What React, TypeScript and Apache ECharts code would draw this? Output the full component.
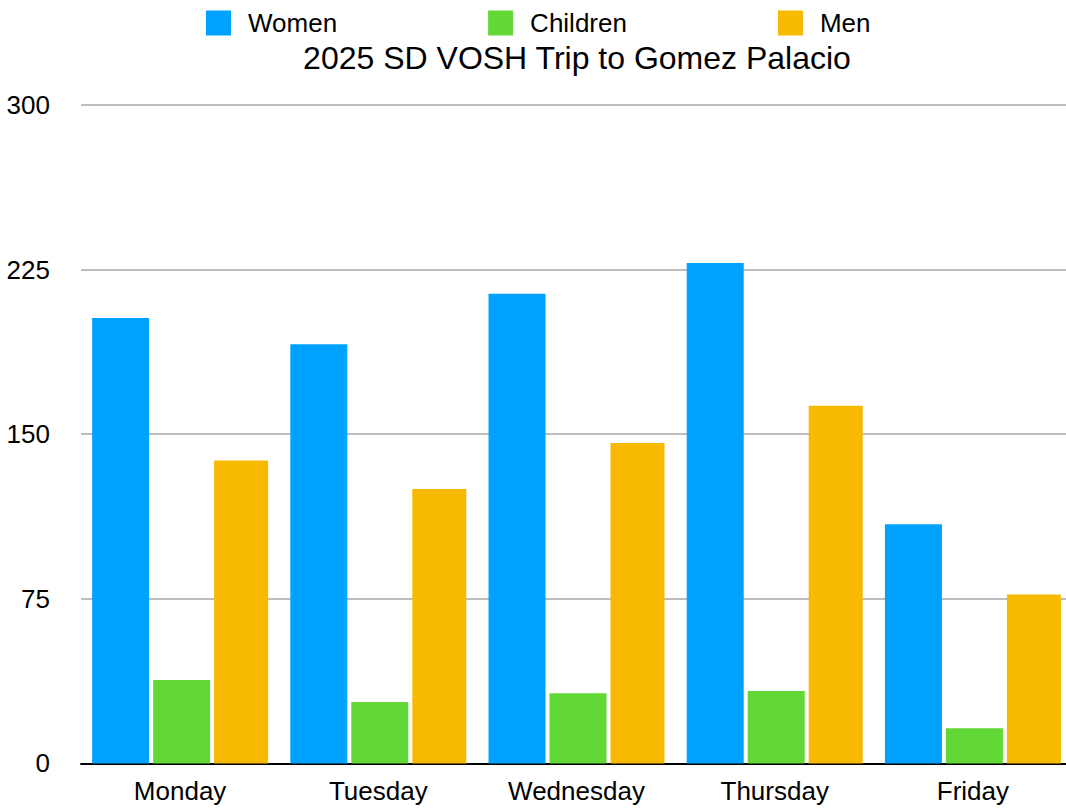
import React, { useEffect, useRef } from "react";
import * as echarts from "echarts";

const categories = ["Monday", "Tuesday", "Wednesday", "Thursday", "Friday"];
const seriesNames = ["Women", "Children", "Men"];
const women = [203, 191, 214, 228, 109];
const children = [38, 28, 32, 33, 16];
const men = [138, 125, 146, 163, 77];
const colors = ["#00A2FF", "#61D836", "#F8BA00"];
const titleText = "2025 SD VOSH Trip to Gomez Palacio";
const yMin = 0;
const yMax = 300;
const yInterval = 75;

const FONT = "'Liberation Sans', Arial, Helvetica, sans-serif";

export default function App() {
  const ref = useRef<HTMLDivElement>(null);

  useEffect(() => {
    if (!ref.current) return;
    const chart = echarts.init(ref.current, null, { renderer: "svg" });
    const values = [women, children, men];
    const widths = [57, 57, 54];
    chart.setOption({
      animation: false,
      backgroundColor: "#ffffff",
      textStyle: { fontFamily: FONT },
      graphic: [
        {
          type: "text",
          x: 577,
          y: 57.5,
          style: {
            text: titleText,
            fontSize: 32,
            fontFamily: FONT,
            fill: "#000000",
            align: "center",
            verticalAlign: "middle",
          },
        },
      ],
      legend: {
        left: 206,
        top: 10,
        padding: 0,
        icon: "rect",
        itemWidth: 25,
        itemHeight: 25,
        itemGap: 151,
        data: seriesNames,
        textStyle: {
          fontSize: 26,
          fontFamily: FONT,
          color: "#000000",
          padding: [0, 0, 0, 12],
        },
      },
      grid: {
        left: 81,
        top: 105,
        width: 991,
        height: 658.4,
        containLabel: false,
      },
      xAxis: {
        type: "category",
        data: categories,
        axisTick: { show: false },
        axisLine: { show: true, lineStyle: { color: "#000000", width: 2 } },
        axisLabel: {
          fontSize: 26,
          fontFamily: FONT,
          color: "#000000",
          margin: 15,
        },
        splitLine: { show: false },
      },
      yAxis: {
        type: "value",
        min: yMin,
        max: yMax,
        interval: yInterval,
        axisLine: { show: false },
        axisTick: { show: false },
        axisLabel: {
          fontSize: 26,
          fontFamily: FONT,
          color: "#000000",
          margin: 31,
        },
        splitLine: { show: true, lineStyle: { color: "#BDBDBD", width: 2 } },
      },
      series: seriesNames.map((name, i) => ({
        name,
        type: "bar",
        data: values[i],
        barWidth: widths[i],
        barGap: "7%",
        itemStyle: { color: colors[i] },
      })),
    });
    return () => {
      chart.dispose();
    };
  }, []);

  return (
    <div
      style={{
        position: "fixed",
        left: 0,
        top: 0,
        width: 1066,
        height: 812,
        overflow: "hidden",
        background: "#ffffff",
      }}
    >
      <div ref={ref} style={{ width: 1090, height: 812 }} />
    </div>
  );
}
